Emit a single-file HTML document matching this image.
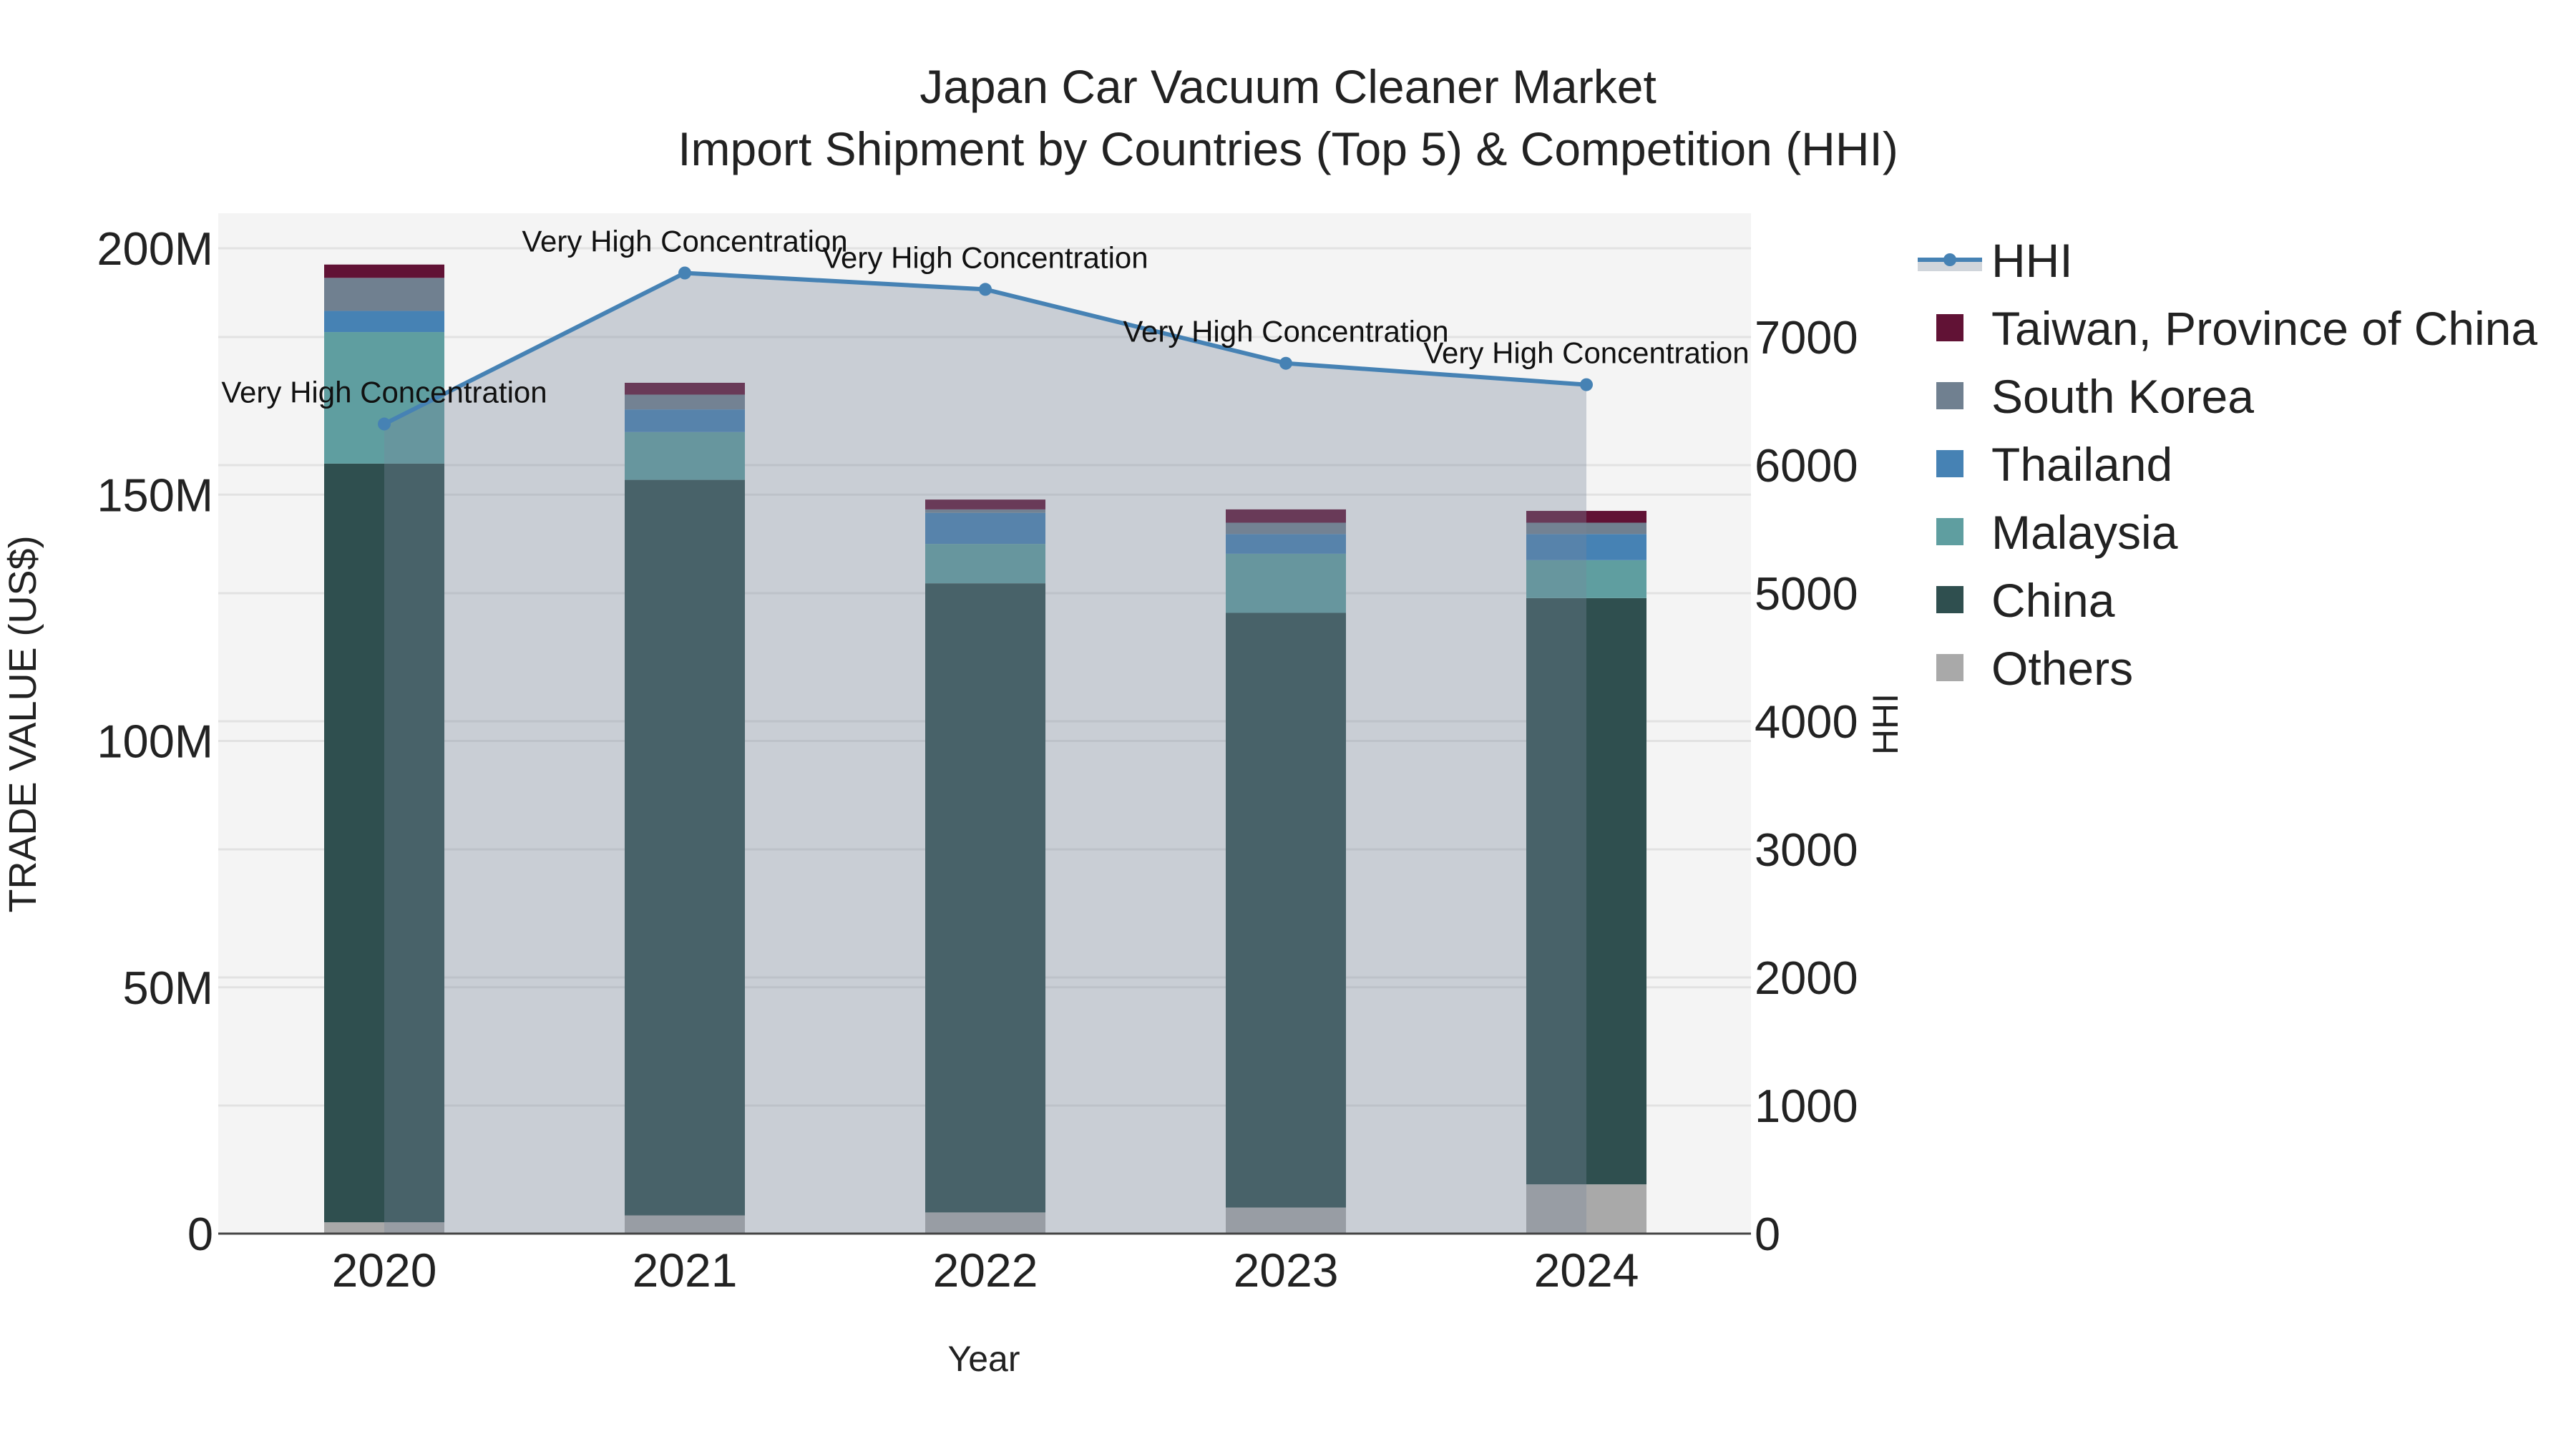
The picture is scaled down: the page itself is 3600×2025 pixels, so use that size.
<!DOCTYPE html>
<html><head><meta charset="utf-8">
<style>
html,body{margin:0;padding:0;background:#fff;}
svg{display:block;font-family:"Liberation Sans",sans-serif;}
</style></head>
<body>
<svg id="chart" width="3600" height="2025" viewBox="0 0 3600 2025" xmlns="http://www.w3.org/2000/svg">
<rect x="305" y="298" width="2142" height="1426" fill="#f4f4f4"/>
<g id="grid"></g>
<g id="bars"></g>
<g id="hhi"></g>
<g id="axes"></g>
<text x="1800" y="144" text-anchor="middle" font-size="66" fill="#222">Japan Car Vacuum Cleaner Market</text>
<text x="1800" y="231" text-anchor="middle" font-size="66" fill="#222">Import Shipment by Countries (Top 5) &amp; Competition (HHI)</text>
<text x="1375" y="1916" text-anchor="middle" font-size="50" fill="#222">Year</text>
<text transform="translate(50,1012) rotate(-90)" text-anchor="middle" font-size="54" fill="#222">TRADE VALUE (US$)</text>
<text transform="translate(2652,1012) rotate(-90)" text-anchor="middle" font-size="50" fill="#222">HHI</text>
<g id="legend"></g>
</svg>
<script>
const years = ["2020","2021","2022","2023","2024"];
const others = [2.3, 3.7, 4.3, 5.3, 10];
const china = [154, 149.3, 127.7, 120.7, 119];
const malaysia = [26.7, 9.7, 8, 12, 7.7];
const thailand = [4.3, 4.6, 6.3, 4, 5.3];
const southKorea = [6.7, 3, 0.7, 2.3, 2.3];
const taiwan = [2.7, 2.4, 2, 2.7, 2.4];
const hhi = [6321, 7500, 7372, 6795, 6628];
const yTicks = [0, 50, 100, 150, 200];
const yTickLabels = ["0", "50M", "100M", "150M", "200M"];
const y2Ticks = [0, 1000, 2000, 3000, 4000, 5000, 6000, 7000];
const annotation = "Very High Concentration";

const NS = "http://www.w3.org/2000/svg";
const L = 305, R = 2447, T = 298, B = 1724;
const yScale = v => B - v * 6.885;
const y2Scale = v => B - v * 0.179;
const xScale = i => 537 + i * 420;
const BW = 168;
function mk(tag, attrs, parent) {
  const e = document.createElementNS(NS, tag);
  for (const k in attrs) e.setAttribute(k, attrs[k]);
  parent.appendChild(e);
  return e;
}
const grid = document.getElementById('grid');
y2Ticks.forEach(t => {
  const l = mk('line', {x1: L, x2: R, y1: y2Scale(t), y2: y2Scale(t), stroke: '#e2e2e2', 'stroke-width': 3}, grid);
  
  
});
yTicks.forEach(t => {
  const l = mk('line', {x1: L, x2: R, y1: yScale(t), y2: yScale(t), stroke: '#e2e2e2', 'stroke-width': 3}, grid);
  
  
});
const series = [
  {name: 'Others', vals: others, color: '#a9a9a9'},
  {name: 'China', vals: china, color: '#2f4f4f'},
  {name: 'Malaysia', vals: malaysia, color: '#5f9ea0'},
  {name: 'Thailand', vals: thailand, color: '#4682b4'},
  {name: 'South Korea', vals: southKorea, color: '#708090'},
  {name: 'Taiwan, Province of China', vals: taiwan, color: '#611235'}
];
const bars = document.getElementById('bars');
years.forEach((yr, i) => {
  let base = 0;
  series.forEach(s => {
    const v = s.vals[i];
    const r = mk('rect', {x: xScale(i) - BW / 2, y: yScale(base + v), width: BW, height: yScale(base) - yScale(base + v), fill: s.color}, bars);
    
    
    base += v;
  });
});
const hg = document.getElementById('hhi');
let pts = hhi.map((v, i) => xScale(i) + ',' + y2Scale(v));
const area = mk('polygon', {points: xScale(0) + ',' + B + ' ' + pts.join(' ') + ' ' + xScale(hhi.length - 1) + ',' + B, fill: 'rgba(120,134,154,0.35)'}, hg);


const line = mk('polyline', {points: pts.join(' '), fill: 'none', stroke: '#4682b4', 'stroke-width': 6}, hg);


hhi.forEach((v, i) => {
  const c = mk('circle', {cx: xScale(i), cy: y2Scale(v), r: 9, fill: '#4682b4'}, hg);
  
  
  const t = mk('text', {x: xScale(i), y: y2Scale(v) - 30, 'text-anchor': 'middle', 'font-size': 42, fill: '#111'}, hg);
  t.textContent = annotation;
  
  
});
const ax = document.getElementById('axes');
const base = mk('line', {x1: L, x2: R, y1: B, y2: B, stroke: '#444', 'stroke-width': 3}, ax);


years.forEach((yr, i) => {
  const t = mk('text', {x: xScale(i), y: 1798, 'text-anchor': 'middle', 'font-size': 66, fill: '#222'}, ax);
  t.textContent = yr;
  
  
});
yTicks.forEach((v, i) => {
  const t = mk('text', {x: 298, y: yScale(v) + 23, 'text-anchor': 'end', 'font-size': 65, fill: '#222'}, ax);
  t.textContent = yTickLabels[i];
  
  
});
y2Ticks.forEach(v => {
  const t = mk('text', {x: 2452, y: y2Scale(v) + 23, 'text-anchor': 'start', 'font-size': 65, fill: '#222'}, ax);
  t.textContent = String(v);
  
  
});
const lg = document.getElementById('legend');
const hl1 = mk('rect', {x: 2680, y: 363, width: 90, height: 16, fill: '#d0d5db'}, lg);


const hl2 = mk('line', {x1: 2680, x2: 2770, y1: 363, y2: 363, stroke: '#4682b4', 'stroke-width': 6}, lg);


const hl3 = mk('circle', {cx: 2725, cy: 363, r: 9, fill: '#4682b4'}, lg);


const ht = mk('text', {x: 2783, y: 387, 'font-size': 66, fill: '#222'}, lg);
ht.textContent = 'HHI';


series.slice().reverse().forEach((s, k) => {
  const y = 363 + (k + 1) * 95;
  const r = mk('rect', {x: 2706, y: y - 19, width: 38, height: 38, fill: s.color}, lg);
  
  
  const t = mk('text', {x: 2783, y: y + 24, 'font-size': 66, fill: '#222'}, lg);
  t.textContent = s.name;
  
  
});
</script>
</body></html>
